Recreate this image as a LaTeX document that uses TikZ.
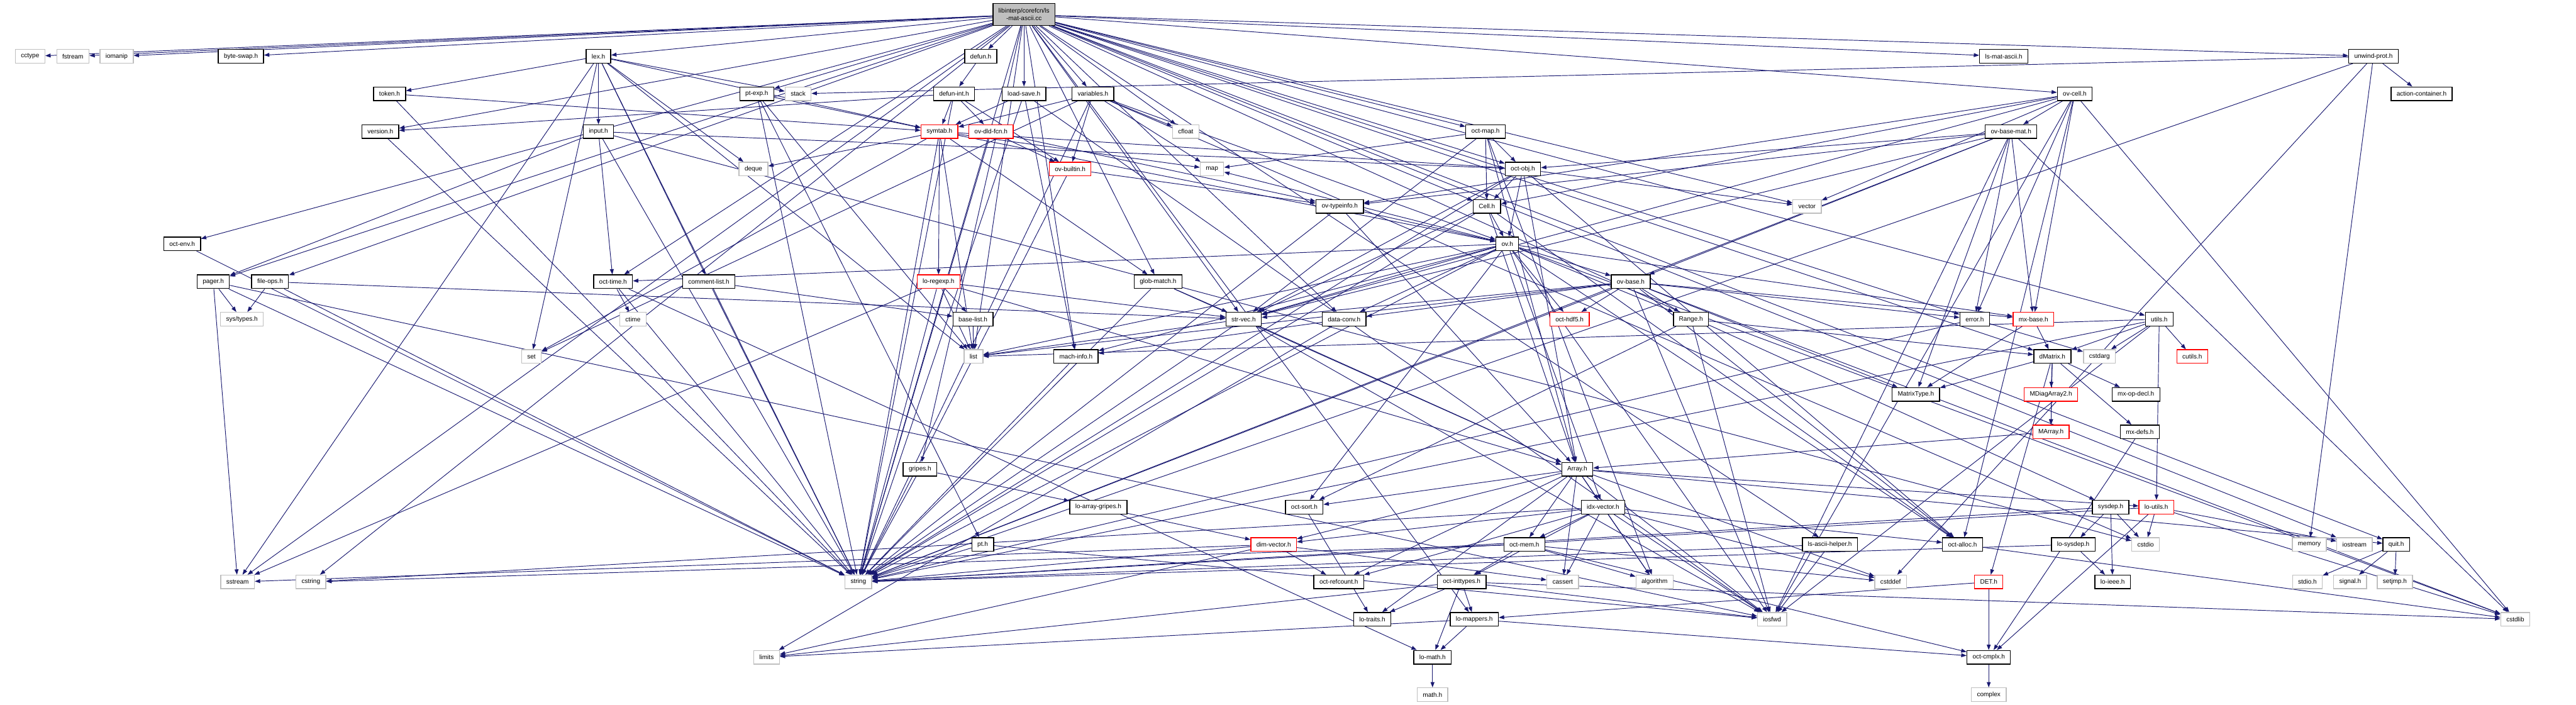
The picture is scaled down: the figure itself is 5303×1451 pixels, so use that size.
\documentclass[tikz,border=0pt]{standalone}
\usepackage{fontspec}
\setmainfont{Liberation Sans}
\usepackage{xcolor}
\usepackage{tikz}
\usetikzlibrary{arrows.meta}
\usetikzlibrary{backgrounds}

\definecolor{blunotte}{HTML}{191970}
\definecolor{grigio}{HTML}{BFBFBF}
\newcommand{\CarattereFile}{\fontsize{3.7pt}{4.4pt}\selectfont}

\tikzset{
    file/.style={draw=black, line width=0.5pt, fill=white, minimum height=0.28cm,
                 inner xsep=0.115cm, inner ysep=0pt, font=\CarattereFile},
    sistema/.style={file, draw=grigio},
    incompleto/.style={file, draw=red},
    radice/.style={file, fill=grigio, align=center, minimum height=0.45cm},
    dip/.style={draw=blunotte, line width=0.35pt, -{Triangle[length=1.1mm,width=0.8mm]}}
}

\begin{document}
\begin{tikzpicture}[x=0.01cm,y=-0.01cm]
    \useasboundingbox (0,0) rectangle (5303,1451);

        % File sorgente
    \node[radice] (radice) at (2108,30) {libinterp/corefcn/ls\\-mat-ascii.cc};

        % Riga 1
    \node[sistema] (cctype) at (62,116) {cctype};
    \node[sistema] (fstream) at (150,116) {fstream};
    \node[sistema] (iomanip) at (240,116) {iomanip};
    \node[file] (byteswap) at (496,116) {byte-swap.h};
    \node[file] (lexh) at (1232,116) {lex.h};
    \node[file] (defunh) at (2019,116) {defun.h};
    \node[file] (lsmatascii) at (4125,116) {ls-mat-ascii.h};
    \node[file] (unwindprot) at (4886,116) {unwind-prot.h};

        % Riga 2
    \node[file] (tokenh) at (802,193) {token.h};
    \node[file] (ptexp) at (1558,193) {pt-exp.h};
    \node[sistema] (stack) at (1643,193) {stack};
    \node[file] (defunint) at (1964,193) {defun-int.h};
    \node[file] (loadsave) at (2108,193) {load-save.h};
    \node[file] (variables) at (2250,193) {variables.h};
    \node[file] (ovcell) at (4271,193) {ov-cell.h};
    \node[file] (actioncont) at (4985,193) {action-container.h};

        % Riga 3
    \node[file] (version) at (783,271) {version.h};
    \node[file] (input) at (1232,271) {input.h};
    \node[incompleto] (symtab) at (1934,271) {symtab.h};
    \node[incompleto] (ovdld) at (2040,271) {ov-dld-fcn.h};
    \node[sistema] (cfloat) at (2441,271) {cfloat};
    \node[file] (octmap) at (3058,271) {oct-map.h};
    \node[file] (ovbasemat) at (4140,271) {ov-base-mat.h};

        % Riga 4
    \node[sistema] (deque) at (1551,348) {deque};
    \node[incompleto] (ovbuiltin) at (2203,348) {ov-builtin.h};
    \node[sistema] (map) at (2495,348) {map};
    \node[file] (octobj) at (3135,348) {oct-obj.h};

        % Riga 5
    \node[file] (ovtypeinfo) at (2758,425) {ov-typeinfo.h};
    \node[file] (cellh) at (3061,425) {Cell.h};
    \node[sistema] (vector) at (3720,425) {vector};

        % Riga 6
    \node[file] (octenv) at (375,502) {oct-env.h};
    \node[file] (ovh) at (3103,502) {ov.h};

        % Riga 7
    \node[file] (pager) at (439,580) {pager.h};
    \node[file] (fileops) at (556,580) {file-ops.h};
    \node[file] (octtime) at (1262,580) {oct-time.h};
    \node[file] (commentlist) at (1459,580) {comment-list.h};
    \node[incompleto] (loregexp) at (1932,580) {lo-regexp.h};
    \node[file] (globmatch) at (2384,580) {glob-match.h};
    \node[file] (ovbase) at (3357,580) {ov-base.h};

        % Riga 8
    \node[sistema] (systypes) at (498,657) {sys/types.h};
    \node[sistema] (ctime) at (1303,657) {ctime};
    \node[file] (baselist) at (2003,657) {base-list.h};
    \node[file] (strvec) at (2560,657) {str-vec.h};
    \node[file] (dataconv) at (2767,657) {data-conv.h};
    \node[incompleto] (octhdf5) at (3231,657) {oct-hdf5.h};
    \node[file] (rangeh) at (3481,657) {Range.h};
    \node[file] (errorh) at (4065,657) {error.h};
    \node[incompleto] (mxbase) at (4186,657) {mx-base.h};
    \node[file] (utilsh) at (4445,657) {utils.h};

        % Riga 9
    \node[sistema] (set) at (1094,734) {set};
    \node[sistema] (list) at (2004,734) {list};
    \node[file] (machinfo) at (2215,734) {mach-info.h};
    \node[file] (dmatrix) at (4225,734) {dMatrix.h};
    \node[sistema] (cstdarg) at (4322,734) {cstdarg};
    \node[incompleto] (cutils) at (4513,734) {cutils.h};

        % Righe 10 e 11
    \node[file] (matrixtype) at (3944,812) {MatrixType.h};
    \node[incompleto] (mdiag) at (4222,812) {MDiagArray2.h};
    \node[file] (mxopdecl) at (4397,812) {mx-op-decl.h};
    \node[incompleto] (marray) at (4222,889) {MArray.h};
    \node[file] (mxdefs) at (4405,889) {mx-defs.h};

        % Riga 12
    \node[file] (gripes) at (1894,966) {gripes.h};
    \node[file] (arrayh) at (3247,966) {Array.h};

        % Riga 13
    \node[file] (loarraygripes) at (2261,1044) {lo-array-gripes.h};
    \node[file] (octsort) at (2685,1044) {oct-sort.h};
    \node[file] (idxvector) at (3300,1044) {idx-vector.h};
    \node[file] (sysdep) at (4345,1044) {sysdep.h};
    \node[incompleto] (loutils) at (4439,1044) {lo-utils.h};

        % Riga 14
    \node[file] (pth) at (2023,1121) {pt.h};
    \node[incompleto] (dimvector) at (2622,1121) {dim-vector.h};
    \node[file] (octmem) at (3138,1121) {oct-mem.h};
    \node[file] (lsasciihelper) at (3767,1121) {ls-ascii-helper.h};
    \node[file] (octalloc) at (4040,1121) {oct-alloc.h};
    \node[file] (losysdep) at (4268,1121) {lo-sysdep.h};
    \node[sistema] (cstdio) at (4417,1121) {cstdio};
    \node[sistema] (memory) at (4754,1121) {memory};
    \node[sistema] (iostream) at (4847,1121) {iostream};
    \node[file] (quit) at (4933,1121) {quit.h};

        % Riga 15
    \node[sistema] (sstream) at (489,1198) {sstream};
    \node[sistema] (cstring) at (640,1198) {cstring};
    \node[sistema] (string) at (1767,1198) {string};
    \node[file] (octrefcount) at (2756,1198) {oct-refcount.h};
    \node[file] (octinttypes) at (3009,1198) {oct-inttypes.h};
    \node[sistema] (cassert) at (3217,1198) {cassert};
    \node[sistema] (algorithm) at (3406,1198) {algorithm};
    \node[sistema] (cstddef) at (3892,1198) {cstddef};
    \node[incompleto] (deth) at (4094,1198) {DET.h};
    \node[file] (loieee) at (4349,1198) {lo-ieee.h};
    \node[sistema] (stdioh) at (4750,1198) {stdio.h};
    \node[sistema] (signalh) at (4838,1198) {signal.h};
    \node[sistema] (setjmph) at (4930,1198) {setjmp.h};

        % Righe 16, 17 e 18
    \node[file] (lotraits) at (2825,1275) {lo-traits.h};
    \node[file] (lomappers) at (3035,1275) {lo-mappers.h};
    \node[sistema] (iosfwd) at (3648,1275) {iosfwd};
    \node[sistema] (cstdlib) at (5178,1275) {cstdlib};
    \node[sistema] (limits) at (1578,1353) {limits};
    \node[file] (lomath) at (2949,1353) {lo-math.h};
    \node[file] (octcmplx) at (4094,1353) {oct-cmplx.h};
    \node[sistema] (mathh) at (2949,1430) {math.h};
    \node[sistema] (complex) at (4094,1430) {complex};

        % Dipendenze (sotto i nodi)
    \begin{scope}[on background layer]
        \foreach \b in {cctype,fstream,iomanip,byteswap,lexh,defunh,lsmatascii,unwindprot,ptexp,
                        loadsave,variables,ovcell,version,cfloat,octmap,octobj,cellh,vector,octenv,
                        pager,fileops,octtime,globmatch,strvec,dataconv,errorh,utilsh,dmatrix,machinfo,
                        list,sstream,string,cstring,iostream,gripes,lsasciihelper,sysdep,quit,lomappers}
            \draw[dip] (radice) -- (\b);
        \foreach \b in {tokenh,input,stack,commentlist,set,list,string,symtab,sstream,deque}
            \draw[dip] (lexh) -- (\b);
        \foreach \b in {symtab,string} \draw[dip] (tokenh) -- (\b);
        \draw[dip] (version) -- (string);
        \foreach \b in {octtime,pager,cstdio,string,octobj} \draw[dip] (input) -- (\b);
        \draw[dip] (defunh) -- (defunint);
        \foreach \b in {symtab,ovbuiltin,ovdld,version,string} \draw[dip] (defunint) -- (\b);
        \foreach \b in {symtab,machinfo,iosfwd,string} \draw[dip] (loadsave) -- (\b);
        \foreach \b in {cfloat,ovbuiltin,symtab,ovh,cstdio,map,set,string} \draw[dip] (variables) -- (\b);
        \foreach \b in {pth,symtab,list,string} \draw[dip] (ptexp) -- (\b);
        \foreach \b in {actioncont,stack,cstddef,memory,string} \draw[dip] (unwindprot) -- (\b);
        \foreach \b in {deque,map,set,list,string,loregexp,globmatch,ovh,octobj} \draw[dip] (symtab) -- (\b);
        \foreach \b in {ovbuiltin,ovtypeinfo,string} \draw[dip] (ovdld) -- (\b);
        \foreach \b in {ovtypeinfo,string} \draw[dip] (ovbuiltin) -- (\b);
        \foreach \b in {cellh,octobj,map,algorithm,strvec,arrayh} \draw[dip] (octmap) -- (\b);
        \foreach \b in {cellh,ovh,vector,string,octalloc,strvec,arrayh} \draw[dip] (octobj) -- (\b);
        \foreach \b in {ovbasemat,ovtypeinfo,cellh,errorh,vector,cstdlib,iosfwd,mxbase,octalloc,strvec}
            \draw[dip] (ovcell) -- (\b);
        \foreach \b in {ovbase,ovtypeinfo,octobj,errorh,mxbase,matrixtype,strvec,cstdlib,iosfwd,string}
            \draw[dip] (ovbasemat) -- (\b);
        \foreach \b in {ovh,arrayh,octalloc,strvec,string} \draw[dip] (cellh) -- (\b);
        \foreach \b in {ovh,arrayh,string} \draw[dip] (ovtypeinfo) -- (\b);
        \foreach \b in {ovbase,octhdf5,rangeh,dataconv,machinfo,mxbase,octalloc,octtime,strvec,
                        idxvector,octsort,iosfwd,cstdlib,list,map,string}
            \draw[dip] (ovh) -- (\b);
        \foreach \b in {octhdf5,rangeh,dataconv,mxbase,errorh,strvec,octalloc,matrixtype,iosfwd,
                        cstdlib,list,string}
            \draw[dip] (ovbase) -- (\b);
        \draw[dip] (octenv) -- (string);
        \foreach \b in {systypes,sstream,string,iosfwd} \draw[dip] (pager) -- (\b);
        \foreach \b in {systypes,strvec,string} \draw[dip] (fileops) -- (\b);
        \foreach \b in {ctime,lomath,string} \draw[dip] (octtime) -- (\b);
        \foreach \b in {baselist,string} \draw[dip] (commentlist) -- (\b);
        \foreach \b in {baselist,strvec,list,sstream,string,arrayh} \draw[dip] (loregexp) -- (\b);
        \foreach \b in {strvec,arrayh,string} \draw[dip] (globmatch) -- (\b);
        \draw[dip] (baselist) -- (list);
        \foreach \b in {list,arrayh,iosfwd,string} \draw[dip] (strvec) -- (\b);
        \foreach \b in {limits,machinfo} \draw[dip] (dataconv) -- (\b);
        \foreach \b in {dmatrix,octsort,iosfwd} \draw[dip] (rangeh) -- (\b);
        \draw[dip] (machinfo) -- (string);
        \foreach \b in {cstdarg,string} \draw[dip] (errorh) -- (\b);
        \foreach \b in {dmatrix,matrixtype} \draw[dip] (mxbase) -- (\b);
        \foreach \b in {cstdarg,cutils,dmatrix,loutils,iosfwd,list,string} \draw[dip] (utilsh) -- (\b);
        \foreach \b in {matrixtype,mdiag,marray,mxopdecl,mxdefs,deth} \draw[dip] (dmatrix) -- (\b);
        \draw[dip] (mdiag) -- (marray);
        \draw[dip] (marray) -- (arrayh);
        \draw[dip] (mxdefs) -- (octcmplx);
        \foreach \b in {octcmplx,lomappers} \draw[dip] (deth) -- (\b);
        \foreach \b in {loarraygripes,string} \draw[dip] (gripes) -- (\b);
        \draw[dip] (loarraygripes) -- (dimvector);
        \foreach \b in {idxvector,octsort,dimvector,octmem,cassert,algorithm,iosfwd,cstddef,lotraits,
                        octrefcount,loutils,quit}
            \draw[dip] (arrayh) -- (\b);
        \foreach \b in {octmem,cassert,algorithm,octinttypes,iosfwd,dimvector,octrefcount,cstring,
                        cstddef,octalloc}
            \draw[dip] (idxvector) -- (\b);
        \draw[dip] (octsort) -- (lotraits);
        \foreach \b in {string,iosfwd} \draw[dip] (pth) -- (\b);
        \foreach \b in {octrefcount,cassert,limits,sstream,string} \draw[dip] (dimvector) -- (\b);
        \foreach \b in {octinttypes,algorithm,cstddef,cstring,octcmplx} \draw[dip] (octmem) -- (\b);
        \foreach \b in {iosfwd,string} \draw[dip] (lsasciihelper) -- (\b);
        \foreach \b in {losysdep,loieee,cstdio,string} \draw[dip] (sysdep) -- (\b);
        \foreach \b in {cstdio,iostream,octcmplx,cstdlib,string} \draw[dip] (loutils) -- (\b);
        \foreach \b in {loieee,string} \draw[dip] (losysdep) -- (\b);
        \draw[dip] (octalloc) -- (cstdlib);
        \foreach \b in {stdioh,signalh,setjmph} \draw[dip] (quit) -- (\b);
        \foreach \b in {lotraits,lomappers,lomath,limits,iosfwd,cstdlib} \draw[dip] (octinttypes) -- (\b);
        \foreach \b in {lomath,octcmplx,limits} \draw[dip] (lomappers) -- (\b);
        \draw[dip] (lomath) -- (mathh);
        \draw[dip] (octcmplx) -- (complex);
    \end{scope}
\end{tikzpicture}
\end{document}
